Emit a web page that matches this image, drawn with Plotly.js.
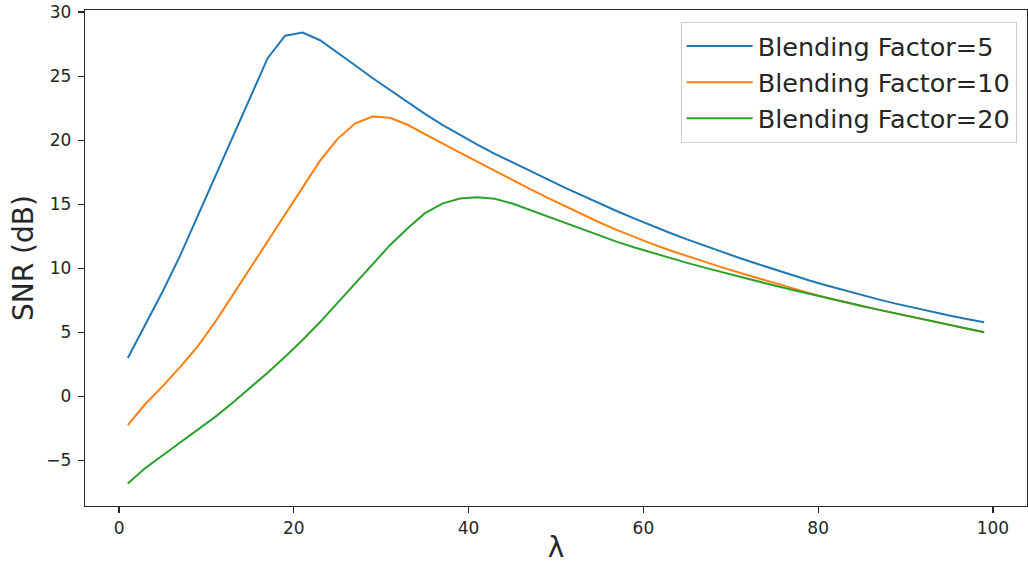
<!DOCTYPE html>
<html>
<head>
<meta charset="utf-8">
<script src="https://cdn.plot.ly/plotly-3.0.1.min.js"></script>
<style>
  html, body { margin: 0; padding: 0; background: #fff; }
  #chart { width: 1028px; height: 573px; }
</style>
</head>
<body>
<div id="chart"></div>
<script>
// Lambda values (odd integers 1..99)
const lambdaValues = [1,3,5,7,9,11,13,15,17,19,21,23,25,27,29,31,33,35,37,39,41,43,45,47,49,
  51,53,55,57,59,61,63,65,67,69,71,73,75,77,79,81,83,85,87,89,91,93,95,97,99];

const snrBlend5 = [3.0,5.6,8.2,11.0,14.1,17.2,20.3,23.4,26.4,28.15,28.4,27.8,26.85,25.85,24.85,23.9,22.95,22.05,21.2,20.4,
  19.65,18.93,18.25,17.6,16.95,16.3,15.67,15.05,14.45,13.87,13.3,12.77,12.25,11.75,11.27,10.8,10.35,9.9,9.47,9.05,
  8.65,8.27,7.9,7.55,7.22,6.9,6.6,6.31,6.04,5.78];

const snrBlend10 = [-2.25,-0.6,0.8,2.3,3.9,5.8,7.9,10.0,12.0,14.2,16.3,18.4,20.1,21.3,21.85,21.75,21.2,20.5,19.75,19.02,
  18.3,17.58,16.88,16.2,15.52,14.85,14.2,13.57,12.98,12.42,11.9,11.4,10.94,10.5,10.07,9.65,9.24,8.83,8.44,8.06,
  7.7,7.36,7.05,6.75,6.45,6.15,5.86,5.57,5.28,5.0];

const snrBlend20 = [-6.8,-5.6,-4.6,-3.6,-2.65,-1.6,-0.5,0.65,1.85,3.1,4.4,5.8,7.3,8.8,10.3,11.8,13.1,14.3,15.05,15.45,
  15.55,15.42,15.05,14.55,14.02,13.5,13.0,12.52,12.06,11.62,11.2,10.8,10.42,10.05,9.69,9.34,8.99,8.65,8.32,7.99,
  7.67,7.36,7.05,6.75,6.45,6.15,5.86,5.57,5.28,5.0];

const seriesNames = ['Blending Factor=5', 'Blending Factor=10', 'Blending Factor=20'];
const seriesColors = ['#1f77b4', '#ff7f0e', '#2ca02c'];
const seriesValues = [snrBlend5, snrBlend10, snrBlend20];

const xTickVals = [0, 20, 40, 60, 80, 100];
const yTickVals = [-5, 0, 5, 10, 15, 20, 25, 30];
const yTickText = ['\u22125', '0', '5', '10', '15', '20', '25', '30'];

const traces = seriesValues.map((vals, i) => ({
  x: lambdaValues,
  y: vals,
  type: 'scatter',
  mode: 'lines',
  name: seriesNames[i],
  line: { color: seriesColors[i], width: 2 }
}));

const FONT = 'DejaVu Sans, sans-serif';

const layout = {
  width: 1028,
  height: 573,
  margin: { l: 85, r: 1, t: 10, b: 67, pad: 0 },
  paper_bgcolor: '#ffffff',
  plot_bgcolor: '#ffffff',
  font: { family: FONT, color: '#262626' },
  showlegend: true,
  legend: {
    x: 0.989, xanchor: 'right',
    y: 0.976, yanchor: 'top',
    bgcolor: 'rgba(255,255,255,0.8)',
    bordercolor: '#cccccc',
    borderwidth: 1,
    font: { family: FONT, size: 25.5, color: '#262626' },
    itemwidth: 66
  },
  xaxis: {
    range: [-3.9, 103.9],
    tickmode: 'array',
    tickvals: xTickVals,
    ticks: 'outside', ticklen: 6, tickwidth: 1.2, tickcolor: '#262626',
    tickfont: { family: FONT, size: 17, color: '#262626' },
    showgrid: false, zeroline: false,
    showline: true, linecolor: '#262626', linewidth: 1.2, mirror: true,
    title: { text: '\u03bb', font: { family: FONT, size: 28, color: '#262626' }, standoff: 0 },
    automargin: false
  },
  yaxis: {
    range: [-8.56, 30.16],
    tickmode: 'array',
    tickvals: yTickVals,
    ticktext: yTickText,
    ticks: 'outside', ticklen: 6, tickwidth: 1.2, tickcolor: '#262626',
    ticklabelstandoff: 3,
    tickfont: { family: FONT, size: 17, color: '#262626' },
    showgrid: false, zeroline: false,
    showline: true, linecolor: '#262626', linewidth: 1.2, mirror: true,
    title: { text: 'SNR (dB)', font: { family: FONT, size: 28, color: '#262626' }, standoff: 4 },
    automargin: false
  }
};

Plotly.newPlot('chart', traces, layout, { staticPlot: true, displayModeBar: false });
</script>
</body>
</html>
